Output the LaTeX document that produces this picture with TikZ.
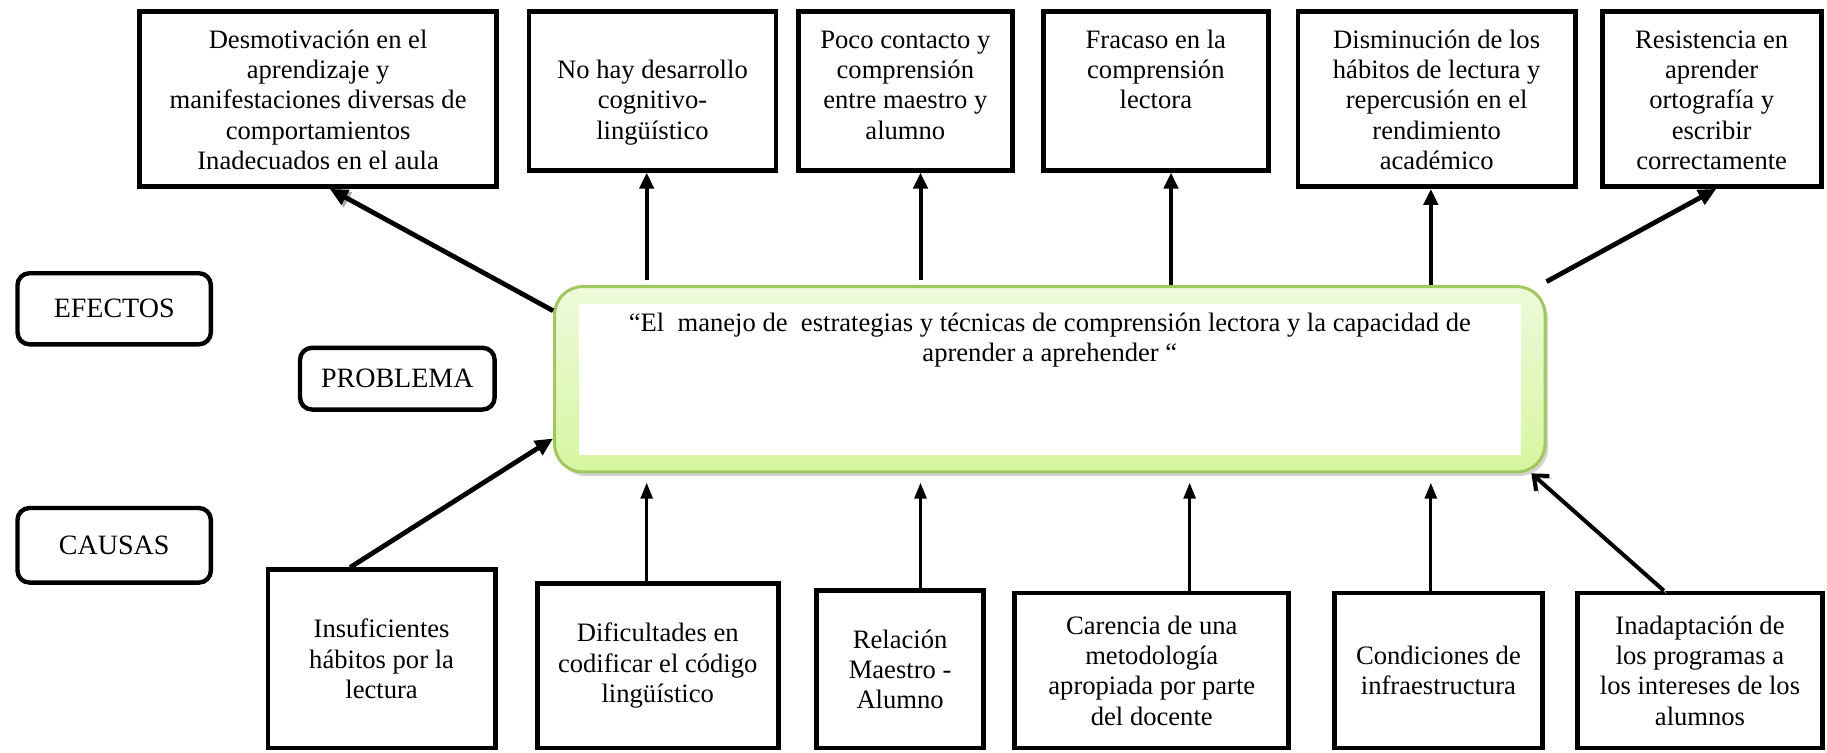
\documentclass[tikz,border=0pt]{standalone}
\usepackage{fontspec}
\setmainfont{Liberation Serif}
\usepackage{tikz}
\usetikzlibrary{arrows.meta}
\usetikzlibrary{shadows}
\newlength{\px}
\setlength{\px}{0.5826pt}
\definecolor{bordeverde}{RGB}{160,200,95}
\definecolor{verdearriba}{RGB}{238,250,220}
\definecolor{verdeabajo}{RGB}{214,246,160}
\newcommand{\arriba}[3]{\parbox[c][#2\px][t]{#1\px}{\centering\vspace*{13\px}\strut #3}}
\tikzset{
    efecto/.style={draw=black, line width=2.4pt, inner sep=0pt},
    causa/.style={draw=black, line width=2.4pt, align=center, inner sep=2pt},
    etiqueta/.style={draw=black, line width=2.2pt, rounded corners=6pt, inner sep=0pt,
        font=\fontsize{14pt}{16pt}\selectfont},
    problema/.style={draw=bordeverde, line width=1.5pt, rounded corners=14pt, inner sep=0pt,
        top color=verdearriba, bottom color=verdeabajo,
        drop shadow={shadow xshift=1.5pt, shadow yshift=-2pt, fill=black!35},
        path picture={\fill[white, sharp corners] ([shift={(12pt,-8.5pt)}]path picture bounding box.north west)
            rectangle ([shift={(-12pt,8.5pt)}]path picture bounding box.south east);}},
    flecha/.style={line width=2pt, -{Triangle[length=8pt,width=7pt]}},
    flechafina/.style={line width=1.5pt, -{Triangle[length=8pt,width=6pt]}},
    diagonal/.style={line width=2.4pt, -{Triangle[length=9pt,width=8pt]}},
    abierta/.style={line width=2pt, -{Straight Barb[length=6pt,width=10pt]}},
    sombra/.style={preaction={draw=black!35, transform canvas={xshift=1.2pt, yshift=-1.2pt}}},
}

\begin{document}
\begin{tikzpicture}[x=\px, y=-\px, font=\fontsize{13.3pt}{15.2pt}\selectfont]
	\useasboundingbox (0,0) rectangle (1568,646);
	% efectos
	\node[efecto] (e1) at (273,85) {\arriba{306}{150}{Desmotivación en el\\ aprendizaje y\\ manifestaciones diversas de\\ comportamientos\\ Inadecuados en el aula}};
	\node[efecto] (e2) at (560,78) {\arriba{212}{136}{\\No hay desarrollo\\ cognitivo-\\ lingüístico}};
	\node[efecto] (e3) at (777,78) {\arriba{184}{136}{Poco contacto y\\ comprensión\\ entre maestro y\\ alumno}};
	\node[efecto] (e4) at (992,78) {\arriba{193}{136}{Fracaso en la\\ comprensión\\ lectora}};
	\node[efecto] (e5) at (1233,85) {\arriba{238}{150}{Disminución de los\\ hábitos de lectura y\\ repercusión en el\\ rendimiento\\ académico}};
	\node[efecto] (e6) at (1469,85) {\arriba{188}{150}{Resistencia en\\ aprender\\ ortografía y\\ escribir\\ correctamente}};
	% etiquetas
	\node[etiqueta, minimum width=166\px, minimum height=61\px] (efectos) at (98,265) {EFECTOS};
	\node[etiqueta, minimum width=167\px, minimum height=53\px] (lblproblema) at (341,325) {PROBLEMA};
	\node[etiqueta, minimum width=166\px, minimum height=64\px] (causas) at (98,468) {CAUSAS};
	% problema
	\node[problema] (prob) at (901,325.5) {\parbox[c][159\px][t]{850\px}{\centering\vspace*{20\px}\strut “El\ \ manejo de\ \ estrategias y técnicas de comprensión lectora y la capacidad de\\ aprender a aprehender “}};
	% causas
	\node[causa, minimum width=195\px, minimum height=153\px] (c1) at (327.5,565.5) {Insuficientes\\ hábitos por la\\ lectura};
	\node[causa, minimum width=207\px, minimum height=141\px] (c2) at (564.5,571.5) {Dificultades en\\ codificar el código\\ lingüístico};
	\node[causa, minimum width=143\px, minimum height=135\px] (c3) at (772.5,574.5) {Relación\\ Maestro -\\ Alumno};
	\node[causa, minimum width=235\px, minimum height=133\px] (c4) at (988.5,575.5) {Carencia de una\\ metodología\\ apropiada por parte\\ del docente};
	\node[causa, minimum width=179\px, minimum height=133\px] (c5) at (1234.5,575.5) {Condiciones de\\ infraestructura};
	\node[causa, minimum width=210\px, minimum height=133\px] (c6) at (1459,575.5) {Inadaptación de\\ los programas a\\ los intereses de los\\ alumnos};
	% flechas hacia los efectos
	\draw[diagonal, sombra] ([yshift=-22\px]prob.north west) -- ([xshift=10\px]e1.south);
	\draw[flecha] ([xshift=-5\px,yshift=4\px]e2.south |- prob.north) -- ([xshift=-5\px]e2.south);
	\draw[flecha] ([xshift=13\px,yshift=4\px]e3.south |- prob.north) -- ([xshift=13\px]e3.south);
	\draw[flecha] ([xshift=13\px]e4.south |- prob.north) -- ([xshift=13\px]e4.south);
	\draw[flecha] ([xshift=-5\px]e5.south |- prob.north) -- ([xshift=-5\px]e5.south);
	\draw[diagonal] ([yshift=3\px]prob.north east) -- ([xshift=4\px]e6.south);
	% flechas desde las causas
	\draw[diagonal] ([xshift=-27\px]c1.north) -- ([yshift=30\px]prob.south west);
	\draw[flechafina] ([xshift=-9.5\px]c2.north) -- ([xshift=-9.5\px,yshift=-8\px]c2.north |- prob.south);
	\draw[flechafina] ([xshift=17.5\px]c3.north) -- ([xshift=17.5\px,yshift=-8\px]c3.north |- prob.south);
	\draw[flechafina] ([xshift=32.5\px]c4.north) -- ([xshift=32.5\px,yshift=-8\px]c4.north |- prob.south);
	\draw[flechafina] ([xshift=-6.5\px]c5.north) -- ([xshift=-6.5\px,yshift=-8\px]c5.north |- prob.south);
	\draw[abierta, sombra] ([xshift=-31\px]c6.north) -- ([xshift=-13\px]prob.south east);
\end{tikzpicture}
\end{document}
